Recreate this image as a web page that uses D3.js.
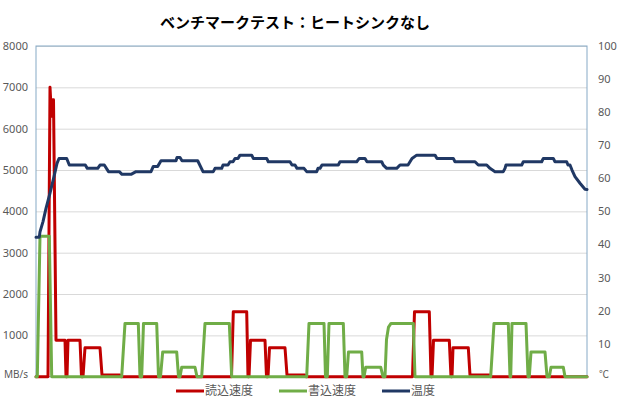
<!DOCTYPE html>
<html>
<head>
<meta charset="utf-8">
<script src="https://cdn.jsdelivr.net/npm/d3@7"></script>
<style>
  body { margin: 0; background: #fff; }
  .tick text { fill: #595959; font-family: "Noto Sans", sans-serif; font-size: 11px; }
</style>
</head>
<body>
<div id="chart"></div>
<script>
// time index (0..551) / value pairs
var readSpeed = [
  [0,0],[12,0],[14,7000],[15.5,6300],[16.8,6700],[17.5,6700],[20,880],[29,880],[30,0],[31,0],[32,880],
  [44,880],[45.5,0],[47,0],[49,700],[64,700],[66,40],[84,40],[85,0],[195.5,0],[197.3,1570],[210.7,1570],
  [212,0],[213,0],[214.5,880],[229,880],[230.5,0],[232,0],[233.5,700],[249,700],[251,40],[269,40],[270,0],
  [376.5,0],[378.5,1570],[393.3,1570],[395,0],[396,0],[397.5,880],[413.3,880],[415,0],[416,0],[417,700],
  [432.3,700],[434,40],[453.3,40],[454.5,0],[551,0]
];
var writeSpeed = [
  [0,0],[1.3,0],[4,3400],[13.3,3400],[15.7,0],[85.7,0],[89,1290],[102.3,1290],[104,0],[105.7,0],[107.5,1290],
  [120.7,1290],[122.5,0],[124.5,0],[126.7,600],[140.7,600],[142.5,0],[144,0],[145.7,230],[159,230],[161,0],
  [165.7,0],[169,1290],[193.3,1290],[195.7,0],[270.7,0],[273,1290],[288,1290],[289.5,0],[291.3,0],[293,1290],
  [307.3,1290],[309,0],[310.7,0],[312.5,600],[325.7,600],[327,0],[328,0],[329.7,230],[344.7,230],[347,0],
  [349,0],[350.5,900],[352.5,1200],[355,1290],[377.3,1290],[379,0],[454.7,0],[458,1290],[472.3,1290],[474,0],
  [474.7,0],[476,1290],[490,1290],[492,0],[493.3,0],[495,600],[509,600],[511,0],[513.3,0],[515,230],
  [527.3,230],[529,0],[551,0]
];
var temperature = [
  [0,42.2],[3.3,42.2],[4,43.8],[7,46.9],[10,50.9],[14,55.5],[18,60.5],[21,64.5],[23,66],[30.7,66],[33.3,64],
  [49.3,64],[51.3,63],[61.7,63],[64,64],[68.3,64],[72.5,62],[83.3,62],[86,61.2],[95,61.2],[100,62],[115,62],
  [117.3,63.6],[121.7,63.6],[125,65.3],[140,65.3],[141,66.3],[144,66.3],[146,65.3],[161.7,65.3],[167,62],
  [177.3,62],[179,63],[185.7,63],[187,64],[192,64],[194,65],[197,65],[199,66],[202,66],[204,67],[215.7,67],
  [217.3,66],[230.7,66],[232.3,65],[254,65],[256,64],[259,64],[261,63],[268,63],[270.7,62],[280.7,62],
  [282,63],[284,63],[286,64],[302.3,64],[304,65],[320.7,65],
  [323.3,66],[329,66],[331,65],[345.7,65],[347.3,64],[350.7,63],[360.7,63],[364,64],[372,64],[374,65],[376,66],
  [380.7,67],[399,67],[401,66],[417.3,66],[419,65],[439,65],[442.3,64],[450.7,64],[454,63],[459,62],
  [467.3,62],[469,63],[470,64],[485.7,64],[487.3,65],[505.7,65],[507.3,66],[517.3,66],[519,65],[530.7,65],
  [532,64],[534,64],[536,62.5],[539,60.5],[544,58.5],[549,56.7],[551,56.6]
];
var seriesNames = ["読込速度", "書込速度", "温度"];
var seriesColors = ["#c00000", "#70ad47", "#203864"];
var leftTicks = [1000, 2000, 3000, 4000, 5000, 6000, 7000, 8000];
var rightTicks = [10, 20, 30, 40, 50, 60, 70, 80, 90, 100];
var title = "ベンチマークテスト：ヒートシンクなし";

var W = 620, H = 405;
var plot = {left: 36, right: 587, top: 46, bottom: 376.7};

var svg = d3.select("#chart").append("svg")
    .attr("width", W)
    .attr("height", H);

svg.append("rect").attr("width", W).attr("height", H).attr("fill", "#fff");

var x = d3.scaleLinear().domain([0, 551]).range([plot.left, plot.right]);
var yL = d3.scaleLinear().domain([0, 8000]).range([plot.bottom, plot.top]);
var yR = d3.scaleLinear().domain([0, 100]).range([plot.bottom, plot.top]);

// gridlines
svg.append("g")
    .attr("transform", "translate(" + plot.left + ",0)")
    .call(d3.axisLeft(yL).tickValues(leftTicks).tickSize(-(plot.right - plot.left)).tickFormat(""))
    .call(function(g) {
      g.select(".domain").remove();
      g.selectAll(".tick line").attr("stroke", "#d9d9d9").attr("stroke-width", 1);
    });

// plot frame
svg.append("rect")
    .attr("x", plot.left).attr("y", plot.top)
    .attr("width", plot.right - plot.left).attr("height", plot.bottom - plot.top)
    .attr("fill", "none").attr("stroke", "#86a9c6").attr("stroke-width", 1);

// left axis labels
svg.append("g")
    .attr("transform", "translate(" + plot.left + ",0)")
    .call(d3.axisLeft(yL).tickValues(leftTicks).tickSize(0).tickPadding(8).tickFormat(d3.format("d")))
    .call(function(g) { g.select(".domain").remove(); });

// right axis labels
svg.append("g")
    .attr("transform", "translate(" + plot.right + ",0)")
    .call(d3.axisRight(yR).tickValues(rightTicks).tickSize(0).tickPadding(11).tickFormat(d3.format("d")))
    .call(function(g) { g.select(".domain").remove(); });

svg.append("text")
    .attr("x", 28).attr("y", plot.bottom)
    .attr("dy", "0.1em")
    .attr("text-anchor", "end")
    .attr("fill", "#595959")
    .style("font-family", "'Noto Sans', sans-serif")
    .style("font-size", "10px")
    .text("MB/s");

svg.append("text")
    .attr("x", 599).attr("y", plot.bottom)
    .attr("dy", "0.1em")
    .attr("fill", "#595959")
    .style("font-family", "'Noto Sans CJK JP', sans-serif")
    .style("font-size", "10px")
    .text("℃");

// lines
var lineL = d3.line().x(function(d) { return x(d[0]); }).y(function(d) { return yL(d[1]); });
var lineR = d3.line().x(function(d) { return x(d[0]); }).y(function(d) { return yR(d[1]); });

var series = [
  {data: readSpeed, line: lineL},
  {data: writeSpeed, line: lineL},
  {data: temperature, line: lineR}
];

series.forEach(function(s, i) {
  svg.append("path")
      .datum(s.data)
      .attr("d", s.line)
      .attr("fill", "none")
      .attr("stroke", seriesColors[i])
      .attr("stroke-width", 3)
      .attr("stroke-linejoin", "round")
      .attr("stroke-linecap", "round");
});

// title
svg.append("text")
    .attr("x", 295).attr("y", 28)
    .attr("text-anchor", "middle")
    .attr("fill", "#000")
    .style("font-family", "'Noto Sans CJK JP', sans-serif")
    .style("font-size", "15px")
    .style("font-weight", "bold")
    .text(title);

// legend
var legendX = [176, 279, 382];
var legend = svg.append("g");
seriesNames.forEach(function(name, i) {
  var g = legend.append("g").attr("transform", "translate(" + legendX[i] + ",391)");
  g.append("line")
      .attr("x1", 0).attr("x2", 28)
      .attr("stroke", seriesColors[i])
      .attr("stroke-width", 3);
  g.append("text")
      .attr("x", 29).attr("dy", "0.35em")
      .attr("fill", "#595959")
      .style("font-family", "'Noto Sans CJK JP', sans-serif")
      .style("font-size", "12px")
      .text(name);
});
</script>
</body>
</html>
